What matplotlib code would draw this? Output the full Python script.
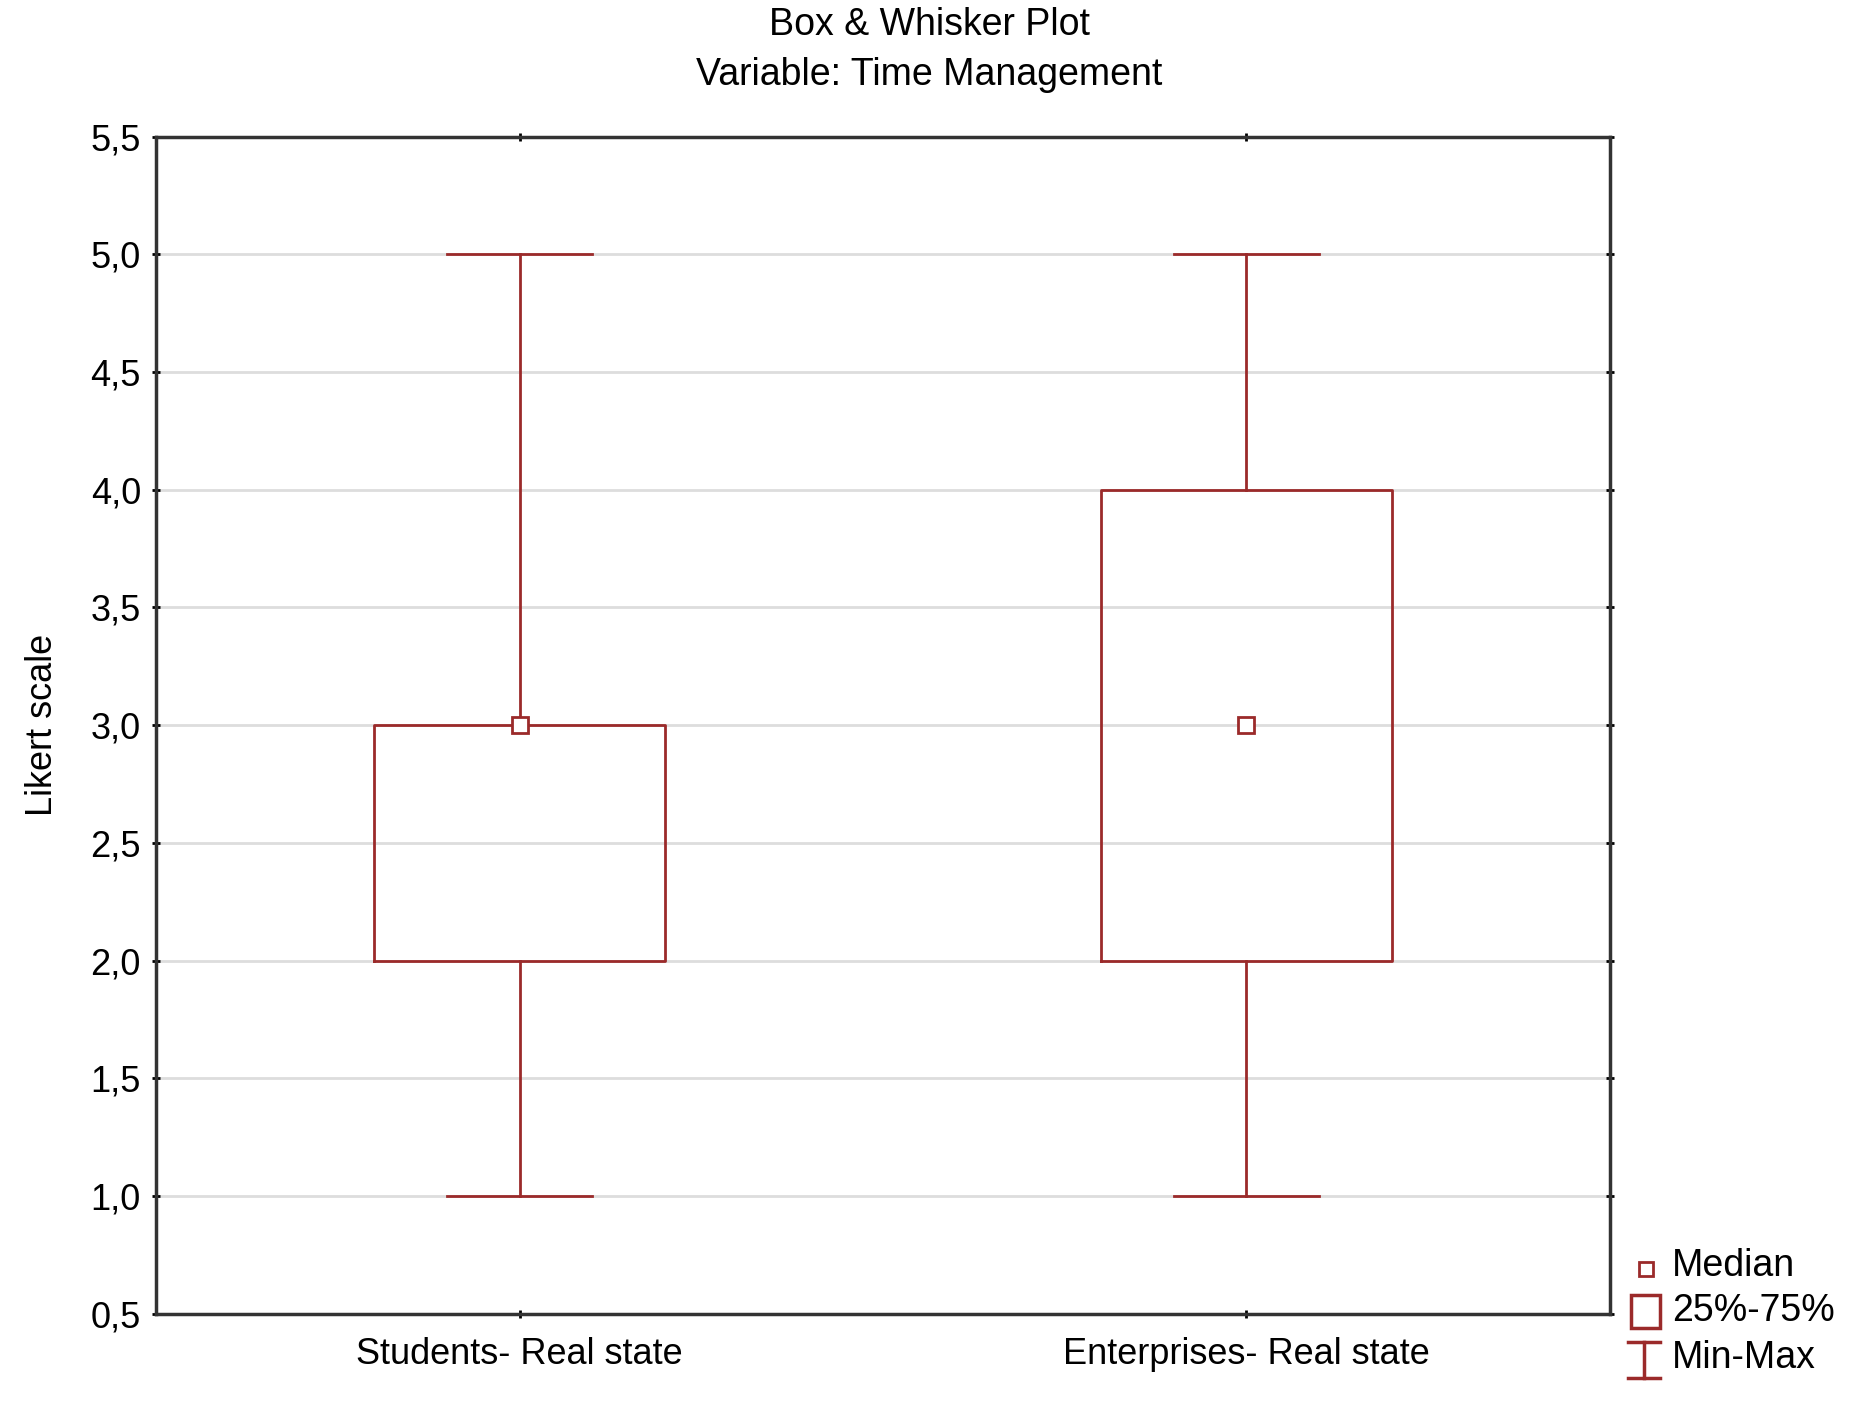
import matplotlib.pyplot as plt
from matplotlib.patches import Rectangle
from matplotlib.lines import Line2D
from matplotlib.ticker import FuncFormatter

# Data
groups = ["Students- Real state", "Enterprises- Real state"]
mins = [1.0, 1.0]
q1 = [2.0, 2.0]
medians = [3.0, 3.0]
q3 = [3.0, 4.0]
maxs = [5.0, 5.0]

red = "#9b2a2a"
plt.rcParams['font.family'] = ['Liberation Sans', 'DejaVu Sans']

fig = plt.figure(figsize=(18.59, 14.08), dpi=100)
ax = fig.add_axes([0.084, 0.067, 0.782, 0.836])

stats = [dict(whislo=mins[i], q1=q1[i], med=medians[i], q3=q3[i], whishi=maxs[i],
              label=groups[i]) for i in range(len(groups))]
ax.bxp(stats, positions=[0, 1], widths=0.4, showfliers=False,
       boxprops=dict(color=red, linewidth=2),
       whiskerprops=dict(color=red, linewidth=2),
       capprops=dict(color=red, linewidth=2),
       medianprops=dict(linewidth=0),
       manage_ticks=False, zorder=3)
ax.plot([0, 1], medians, linestyle='none', marker='s', markersize=11,
        markerfacecolor='white', markeredgecolor=red, markeredgewidth=2, zorder=4)

ax.set_xlim(-0.5, 1.5)
ax.set_ylim(0.5, 5.5)
ax.set_xticks([0, 1])
ax.set_xticklabels(groups)
ax.set_yticks([0.5 + 0.5 * i for i in range(11)])
ax.yaxis.set_major_formatter(FuncFormatter(lambda v, p: f"{v:.1f}".replace('.', ',')))
ax.tick_params(labelsize=26, length=6, width=2, direction='inout', right=True, top=True,
               pad=8)
ax.tick_params(axis='x', pad=14)
ax.grid(axis='y', color='#dddddd', linewidth=2, zorder=0)
for s in ax.spines.values():
    s.set_linewidth(2.5)
    s.set_color('#333333')
ax.set_ylabel("Likert scale", fontsize=26, labelpad=22)
fig.suptitle("Box & Whisker Plot\nVariable: Time Management", fontsize=27, y=0.995,
             linespacing=1.5)

# Legend drawn in figure coordinates
W, H = 1859, 1408
fig.add_artist(Line2D([1646 / W], [1 - 1269 / H], marker='s', markersize=10,
                      markerfacecolor='white', markeredgecolor=red, markeredgewidth=2,
                      transform=fig.transFigure))
fig.add_artist(Rectangle((1631 / W, 1 - 1328 / H), 29 / W, 33 / H, fill=False,
                         edgecolor=red, linewidth=2.5, transform=fig.transFigure))
for xs, ys in [([1628, 1660], [1342, 1342]), ([1628, 1660], [1378, 1378]),
               ([1644, 1644], [1342, 1378])]:
    fig.add_artist(Line2D([x / W for x in xs], [1 - y / H for y in ys], color=red,
                          linewidth=2.5, transform=fig.transFigure))
for txt, y in [("Median", 1266), ("25%-75%", 1311), ("Min-Max", 1358)]:
    fig.text(1672 / W, 1 - y / H, txt, fontsize=27, va='center')

fig.savefig("out.png", dpi=100)
